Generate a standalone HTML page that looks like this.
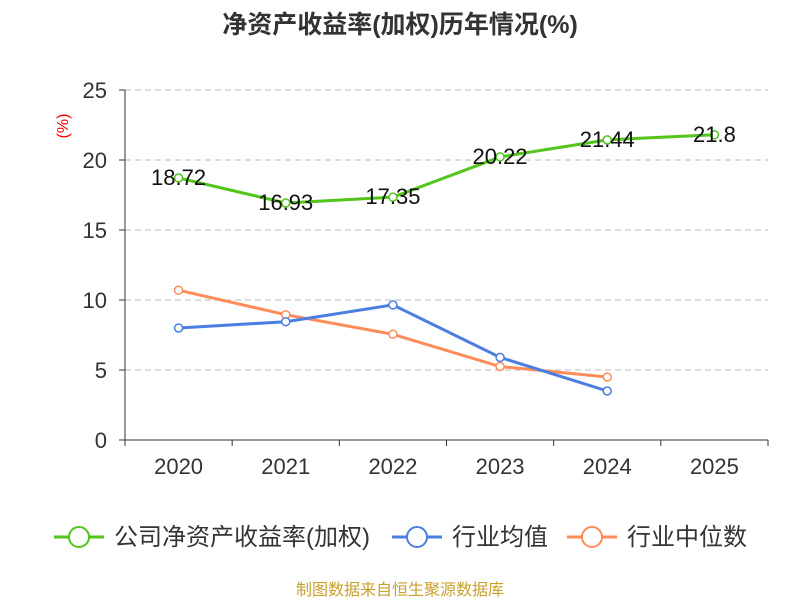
<!DOCTYPE html>
<html><head><meta charset="utf-8"><style>
body{margin:0;background:#fff;}
svg text{font-family:"Liberation Sans","Noto Sans CJK SC",sans-serif;}
</style></head><body>
<svg id="c" width="800" height="600" xmlns="http://www.w3.org/2000/svg">
<text x="400" y="33" text-anchor="middle" font-size="25" font-weight="bold" fill="#333">净资产收益率(加权)历年情况(%)</text>
<text x="0" y="0" transform="translate(68,126) rotate(-90)" text-anchor="middle" font-size="16" fill="#e00">(%)</text>
<g id="grid"></g><g id="axes"></g><g id="series"></g>
<g>
<g><line x1="54" y1="537" x2="104" y2="537" stroke="#52c41a" stroke-width="3"/><circle cx="79" cy="537" r="10" fill="#fff" stroke="#52c41a" stroke-width="2"/><text x="114" y="545" font-size="24" fill="#333">公司净资产收益率(加权)</text></g>
<g><line x1="392" y1="537" x2="442" y2="537" stroke="#4a7ee0" stroke-width="3"/><circle cx="417" cy="537" r="10" fill="#fff" stroke="#4a7ee0" stroke-width="2"/><text x="452" y="545" font-size="24" fill="#333">行业均值</text></g>
<g><line x1="567" y1="537" x2="617" y2="537" stroke="#ff8c5a" stroke-width="3"/><circle cx="592" cy="537" r="10" fill="#fff" stroke="#ff8c5a" stroke-width="2"/><text x="627" y="545" font-size="24" fill="#333">行业中位数</text></g>
</g>
<text x="400" y="595" text-anchor="middle" font-size="16" fill="#c8a030">制图数据来自恒生聚源数据库</text>
</svg>
<script>
const categories=["2020","2021","2022","2023","2024","2025"];
const company=[18.72,16.93,17.35,20.22,21.44,21.8];
const industryAvg=[8.0,8.45,9.65,5.9,3.5];
const industryMedian=[10.7,8.95,7.55,5.25,4.5];
const yTicks=[0,5,10,15,20,25];
const NS="http://www.w3.org/2000/svg";
const x0=125,x1=768,y0=440,y1=90;
const step=(x1-x0)/categories.length;
const X=i=>x0+step*(i+0.5);
const Y=v=>y0-(v/25)*(y0-y1);
function mk(p,t,a){const e=document.createElementNS(NS,t);for(const k in a)e.setAttribute(k,a[k]);document.getElementById(p).appendChild(e);return e;}
yTicks.forEach(v=>{
 if(v>0){const g=mk("grid","line",{x1:x0,x2:x1,y1:Y(v),y2:Y(v),stroke:"#bbb","stroke-dasharray":"6,4"});
 
 }
 const t=mk("axes","text",{x:x0-18,y:Y(v)+8,"text-anchor":"end","font-size":"22",fill:"#333"});t.textContent=v;
 
 
 mk("axes","line",{x1:x0-6,x2:x0,y1:Y(v),y2:Y(v),stroke:"#333"});
});
const ya=mk("axes","line",{x1:x0,x2:x0,y1:y1,y2:y0,stroke:"#333"});


const xa=mk("axes","line",{x1:x0,x2:x1,y1:y0,y2:y0,stroke:"#333"});


for(let i=0;i<=categories.length;i++)mk("axes","line",{x1:x0+step*i,x2:x0+step*i,y1:y0,y2:y0+6,stroke:"#333"});
categories.forEach((c,i)=>{const t=mk("axes","text",{x:X(i),y:474,"text-anchor":"middle","font-size":"22",fill:"#333"});t.textContent=c;
 
 });
function series(vals,color,name,labels){
 const p=mk("series","polyline",{points:vals.map((v,i)=>X(i)+","+Y(v)).join(" "),fill:"none",stroke:color,"stroke-width":"3"});
 
 
 vals.forEach((v,i)=>{const c=mk("series","circle",{cx:X(i),cy:Y(v),r:4,fill:"#fff",stroke:color,"stroke-width":"1.5"});
  
  
  if(labels){const t=mk("series","text",{x:X(i),y:Y(v)+7,"text-anchor":"middle","font-size":"22",fill:"#111"});t.textContent=v;
   
   }});
}
series(industryMedian,"#ff8c5a","industry-median",false);
series(industryAvg,"#4a7ee0","industry-avg",false);
series(company,"#52c41a","company",true);
</script>
</body></html>
